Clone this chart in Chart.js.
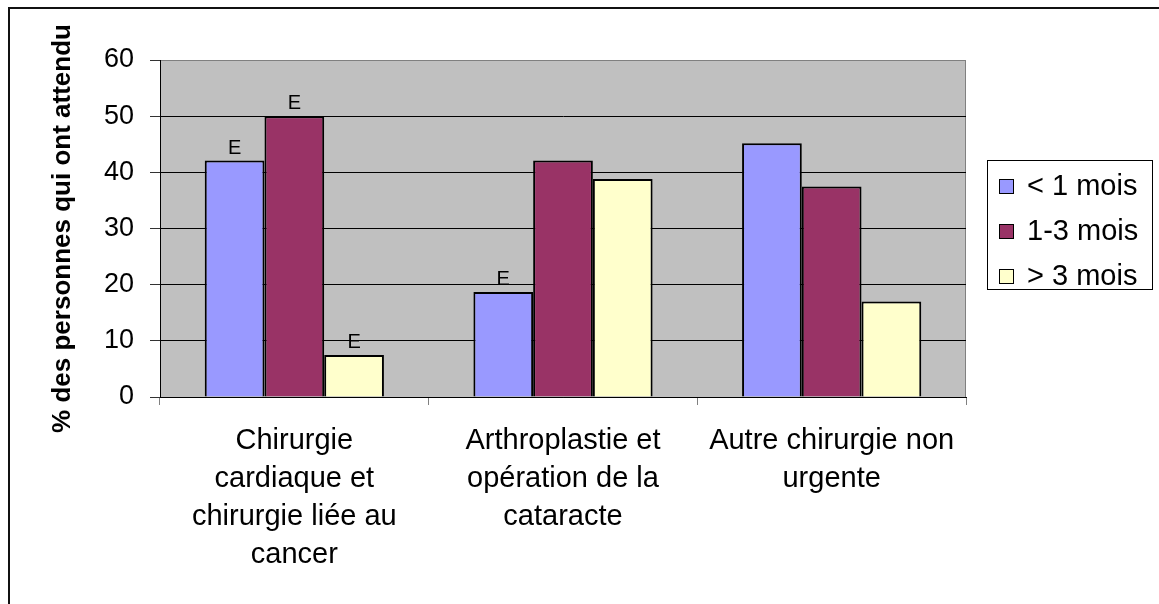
<!DOCTYPE html>
<html>
<head>
<meta charset="utf-8">
<script src="https://cdn.jsdelivr.net/npm/chart.js@4/dist/chart.umd.min.js"></script>
<style>
  body { margin: 0; background: #fff; overflow: hidden; }
  #frame { position: absolute; left: 8px; top: 7px; width: 1300px; height: 800px; border-left: 2px solid #111; border-top: 2px solid #111; }
  #waitChart { position: absolute; left: 0; top: 0; }
</style>
</head>
<body>
<div id="frame"></div>
<canvas id="waitChart" width="1159" height="604"></canvas>
<script>
// categories (multi-line labels like the original)
const categories = [
  ["Chirurgie", "cardiaque et", "chirurgie liée au", "cancer"],
  ["Arthroplastie et", "opération de la", "cataracte"],
  ["Autre chirurgie non", "urgente"],
];

const seriesNames = ["< 1 mois", "1-3 mois", "> 3 mois"];

// % waiting
const lessThan1 = [42.1, 18.7, 45.2];
const oneTo3 = [50.0, 42.1, 37.5];
const moreThan3 = [7.5, 38.8, 17.0];

// "E" = use with caution, per series / category
const flagLess1 = [true, true, false];
const flagOneTo3 = [true, false, false];
const flagMore3 = [true, false, false];

const yTicks = [0, 10, 20, 30, 40, 50, 60];

const colors = ["#9999FF", "#993366", "#FFFFCC"];
const FONT = "'Liberation Sans', Arial, Helvetica, sans-serif";

// grey plot background + frame
const plotBg = {
  id: "plotBg",
  beforeDraw(chart) {
    const { ctx, chartArea: a } = chart;
    ctx.save();
    ctx.fillStyle = "#C0C0C0";
    ctx.fillRect(a.left, a.top, a.right - a.left, a.bottom - a.top);
    ctx.strokeStyle = "#808080";
    ctx.lineWidth = 1;
    ctx.strokeRect(a.left + 0.5, a.top + 0.5, a.right - a.left - 1, a.bottom - a.top);
    ctx.restore();
  },
};

// the little "E" marks above some bars
const flagLabels = {
  id: "flagLabels",
  afterDatasetsDraw(chart) {
    const { ctx } = chart;
    const flags = [flagLess1, flagOneTo3, flagMore3];
    ctx.save();
    ctx.font = "20px " + FONT;
    ctx.fillStyle = "#000";
    ctx.textAlign = "center";
    ctx.textBaseline = "alphabetic";
    chart.data.datasets.forEach((ds, i) => {
      const meta = chart.getDatasetMeta(i);
      meta.data.forEach((bar, j) => {
        if (flags[i][j]) ctx.fillText("E", bar.x, bar.y - 7);
      });
    });
    ctx.restore();
  },
};

// boxed legend on the right, like the Excel one
const boxLegend = {
  id: "boxLegend",
  afterDraw(chart) {
    const { ctx, chartArea: a } = chart;
    const left = a.right + 21;
    const top = 160;
    ctx.save();
    ctx.strokeStyle = "#000";
    ctx.lineWidth = 1;
    ctx.strokeRect(left + 0.5, top + 0.5, 165, 129);
    ctx.font = "29px " + FONT;
    ctx.textBaseline = "middle";
    ctx.textAlign = "left";
    chart.data.datasets.forEach((ds, i) => {
      const cy = top + 26 + i * 45;
      ctx.fillStyle = ds.backgroundColor;
      ctx.fillRect(left + 12, cy - 7, 15, 15);
      ctx.strokeRect(left + 12.5, cy - 6.5, 14, 14);
      ctx.fillStyle = "#000";
      ctx.fillText(ds.label, left + 40, cy + 1);
    });
    ctx.restore();
  },
};

const chart = new Chart(document.getElementById("waitChart"), {
  type: "bar",
  data: {
    labels: categories,
    datasets: [
      { label: seriesNames[0], data: lessThan1, backgroundColor: colors[0] },
      { label: seriesNames[1], data: oneTo3, backgroundColor: colors[1] },
      { label: seriesNames[2], data: moreThan3, backgroundColor: colors[2] },
    ],
  },
  options: {
    responsive: false,
    animation: false,
    devicePixelRatio: 1,
    layout: { padding: { top: 60, right: 193, bottom: 0, left: 0 } },
    datasets: {
      bar: {
        borderColor: "#000",
        borderWidth: 2,
        categoryPercentage: 0.667,
        barPercentage: 1,
      },
    },
    plugins: {
      legend: { display: false },
      tooltip: { enabled: false },
    },
    scales: {
      x: {
        afterFit: (scale) => { scale.height = 207; },
        grid: {
          offset: true,
          drawOnChartArea: false,
          tickLength: 8,
          color: "#808080",
        },
        border: { color: "#000", width: 1 },
        ticks: {
          autoSkip: false,
          maxRotation: 0,
          padding: 17,
          color: "#000",
          font: { family: FONT, size: 29, lineHeight: 1.31 },
        },
      },
      y: {
        min: 0,
        max: 60,
        afterFit: (scale) => { scale.width = 160; },
        afterBuildTicks: (scale) => { scale.ticks = yTicks.map((v) => ({ value: v })); },
        grid: {
          color: (c) => (c.tick && c.tick.value === 60 ? "#808080" : "#000"),
          tickColor: "#333",
          tickLength: 10,
        },
        border: { color: "#000", width: 1 },
        ticks: {
          padding: 16,
          color: "#000",
          font: { family: FONT, size: 27 },
        },
        title: {
          display: true,
          text: "% des personnes qui ont attendu",
          color: "#000",
          padding: { top: 47, bottom: 0 },
          font: { family: FONT, size: 26, weight: "bold" },
        },
      },
    },
  },
  plugins: [plotBg, flagLabels, boxLegend],
});
</script>
</body>
</html>
